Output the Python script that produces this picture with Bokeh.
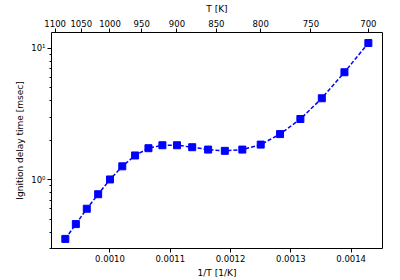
from bokeh.plotting import figure
from bokeh.models import LinearAxis, FixedTicker, CustomJSTickFormatter, PrintfTickFormatter, Range1d
from bokeh.embed import file_html
from bokeh.resources import INLINE

# Data
temperature_K = [1080, 1060, 1040, 1020, 1000, 980, 960, 940, 920, 900,
                 880, 860, 840, 820, 800, 780, 760, 740, 720, 700]
ignition_delay_ms = [0.355, 0.460, 0.602, 0.776, 1.005, 1.265, 1.53, 1.738, 1.83, 1.83,
                     1.768, 1.696, 1.659, 1.696, 1.85, 2.225, 2.898, 4.165, 6.57, 10.96]
inv_T = [1.0 / t for t in temperature_K]

bottom_ticks = [0.0010, 0.0011, 0.0012, 0.0013, 0.0014]
top_tick_T = [1100, 1050, 1000, 950, 900, 850, 800, 750, 700]
y_major = [1, 10]
y_minor = [0.3, 0.4, 0.5, 0.6, 0.7, 0.8, 0.9, 2, 3, 4, 5, 6, 7, 8, 9]

FONT = "DejaVu Sans"

p = figure(width=400, height=280, output_backend="svg", toolbar_location=None,
           y_axis_type="log",
           x_range=Range1d(0.000903, 0.001452), y_range=Range1d(0.300, 13.18),
           min_border_left=51, min_border_right=18, min_border_top=29, min_border_bottom=32)
p.grid.visible = False
p.outline_line_color = "black"
p.outline_line_width = 1
p.background_fill_color = "white"
p.border_fill_color = "white"

p.line(inv_T, ignition_delay_ms, line_color="blue", line_width=1.5, line_dash="4 2")
p.scatter(inv_T, ignition_delay_ms, marker="square", size=7, fill_color="blue", line_color="blue")

xa = p.xaxis[0]
xa.ticker = FixedTicker(ticks=bottom_ticks)
xa.formatter = PrintfTickFormatter(format="%.4f")
xa.axis_label = "1/T [1/K]"

ya = p.yaxis[0]
ya.ticker = FixedTicker(ticks=y_major, minor_ticks=y_minor)
ya.major_label_overrides = {1: "10⁰", 10: "10¹"}
ya.axis_label = "Ignition delay time [msec]"

top = LinearAxis(ticker=FixedTicker(ticks=[1.0 / t for t in top_tick_T]),
                 formatter=CustomJSTickFormatter(code="return Math.round(1/tick).toString();"),
                 axis_label="T [K]")
p.add_layout(top, "above")

for ax in [xa, ya, top]:
    ax.axis_line_color = None
    ax.major_tick_in = 0
    ax.major_tick_out = 4
    ax.minor_tick_in = 0
    ax.minor_tick_out = 2
    ax.major_tick_line_color = "black"
    ax.minor_tick_line_color = "black"
    ax.major_label_text_font = FONT
    ax.major_label_text_font_size = "8.5px"
    ax.major_label_text_color = "black"
    ax.axis_label_text_font = FONT
    ax.axis_label_text_font_size = "9px"
    ax.axis_label_text_font_style = "normal"
    ax.axis_label_text_color = "black"
    ax.major_label_standoff = 2
    ax.axis_label_standoff = 3

open("out.html", "w").write(file_html(p, INLINE))
